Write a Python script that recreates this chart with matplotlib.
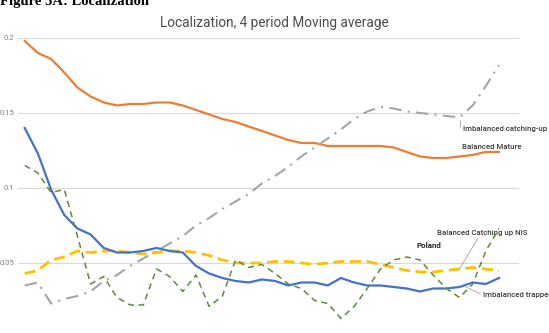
import matplotlib
matplotlib.use('Agg')
import matplotlib.pyplot as plt
import numpy as np

# 4-period moving average of localization, 37 periods
balanced_mature = [0.198, 0.190, 0.186, 0.177, 0.167, 0.161, 0.157, 0.155, 0.156, 0.156,
                   0.157, 0.157, 0.155, 0.152, 0.149, 0.146, 0.144, 0.141, 0.138, 0.135,
                   0.132, 0.130, 0.130, 0.128, 0.128, 0.128, 0.128, 0.128, 0.127, 0.124,
                   0.121, 0.120, 0.120, 0.121, 0.122, 0.124, 0.124]
imbalanced_catching_up = [0.035, 0.037, 0.023, 0.026, 0.028, 0.031, 0.038, 0.042, 0.048, 0.053,
                          0.058, 0.063, 0.068, 0.075, 0.080, 0.086, 0.091, 0.096, 0.103, 0.108,
                          0.114, 0.121, 0.127, 0.133, 0.139, 0.146, 0.151, 0.154, 0.153, 0.151,
                          0.150, 0.149, 0.148, 0.147, 0.155, 0.168, 0.182]
imbalanced_trapped = [0.140, 0.123, 0.099, 0.082, 0.073, 0.069, 0.060, 0.057, 0.057, 0.058,
                      0.060, 0.058, 0.057, 0.048, 0.043, 0.040, 0.038, 0.037, 0.039, 0.038,
                      0.035, 0.037, 0.037, 0.035, 0.040, 0.037, 0.035, 0.035, 0.034, 0.033,
                      0.031, 0.033, 0.033, 0.034, 0.037, 0.036, 0.040]
balanced_catching_up_nis = [0.043, 0.045, 0.052, 0.054, 0.058, 0.057, 0.058, 0.058, 0.057, 0.056,
                            0.057, 0.058, 0.058, 0.057, 0.055, 0.052, 0.050, 0.050, 0.050, 0.051,
                            0.051, 0.050, 0.049, 0.050, 0.051, 0.051, 0.051, 0.049, 0.047, 0.045,
                            0.044, 0.044, 0.045, 0.046, 0.047, 0.046, 0.045]
poland = [0.115, 0.110, 0.097, 0.099, 0.068, 0.036, 0.041, 0.027, 0.022, 0.022,
          0.046, 0.041, 0.031, 0.042, 0.021, 0.028, 0.052, 0.047, 0.049, 0.043,
          0.036, 0.033, 0.025, 0.023, 0.013, 0.021, 0.033, 0.046, 0.052, 0.054,
          0.052, 0.042, 0.033, 0.027, 0.036, 0.058, 0.073]
y_ticks = [0.05, 0.1, 0.15, 0.2]
y_tick_labels = ['0.05', '0.1', '0.15', '0.2']

plt.rcParams['font.family'] = ['Roboto', 'DejaVu Sans']

fig = plt.figure(figsize=(5.49, 3.33), dpi=100)
ax = fig.add_axes([0.033, -0.015, 0.912, 0.901])

x = np.arange(len(balanced_mature))
ax.plot(x, balanced_mature, color='#ED7D31', lw=1.6, zorder=3)
ax.plot(x, imbalanced_catching_up, color='#A5A5A5', lw=1.5,
        dashes=(6, 3, 1, 3), zorder=3)
ax.plot(x, balanced_catching_up_nis, color='#FFC000', lw=2.0,
        dashes=(4, 2), zorder=3)
ax.plot(x, imbalanced_trapped, color='#4472C4', lw=1.6, zorder=4)
ax.plot(x, poland, color='#5B8A3A', lw=1.1, dashes=(4, 3), zorder=5)

ax.set_xlim(-0.5, 37.5)
ax.set_ylim(0, 0.2)
ax.set_yticks(y_ticks)
ax.set_yticklabels(y_tick_labels)
ax.set_xticks([])
ax.tick_params(axis='y', length=0, pad=3, labelsize=5.5, labelcolor='#7F7F7F')
ax.grid(axis='y', color='#D9D9D9', lw=0.8)
ax.set_axisbelow(True)
for s in ax.spines.values():
    s.set_visible(False)

fig.text(0.50, 0.93, 'Localization, 4 period Moving average', ha='center', va='center',
         fontsize=9.8, color='#4D4D4D')
fig.text(0.0, 0.986, 'Figure 5A: Localization', ha='left', va='baseline',
         fontsize=10.5, fontweight='bold', family=['Liberation Serif', 'DejaVu Serif'])

# data labels with leader lines, placed like the original Excel chart
lab = dict(fontsize=5.6, color='#3A3A3A', va='center', ha='left', fontweight='medium')
ax.annotate('Imbalanced catching-up', xy=(33.0, imbalanced_catching_up[33]),
            xytext=(33.3, 0.139), textcoords='data', **lab,
            arrowprops=dict(arrowstyle='-', color='#A5A5A5', lw=0.6,
                            connectionstyle='angle,angleA=180,angleB=90,rad=0'))
ax.text(33.2, 0.127, 'Balanced Mature', **lab)
ax.annotate('Balanced Catching up NIS', xy=(33.0, balanced_catching_up_nis[33]),
            xytext=(31.3, 0.0703), textcoords='data', **lab,
            arrowprops=dict(arrowstyle='-', color='#A5A5A5', lw=0.6,
                            shrinkA=0, shrinkB=0, relpos=(0.47, 0.0)))
ax.text(29.7, 0.0615, 'Poland', fontsize=5.8, color='#262626', fontweight='bold',
        va='center', ha='left')
ax.annotate('Imbalanced trapped', xy=(33.4, 0.0345),
            xytext=(34.8, 0.0285), textcoords='data', **lab,
            arrowprops=dict(arrowstyle='-', color='#A5A5A5', lw=0.6,
                            shrinkA=0, shrinkB=0, relpos=(0.0, 0.5)))

fig.savefig('out.png', dpi=100)
